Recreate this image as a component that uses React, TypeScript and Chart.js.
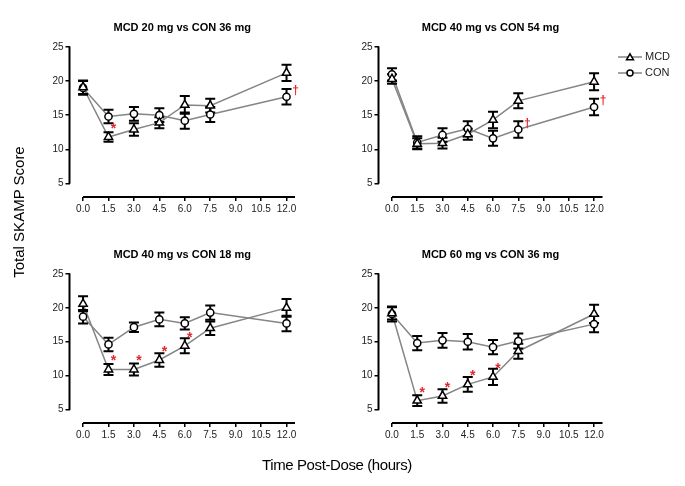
import React, { useEffect, useRef } from "react";
import { Chart, registerables } from "chart.js";

Chart.register(...registerables);

// ---------- data ----------
const hours = [0, 1.5, 3, 4.5, 6, 7.5, 12];
const xTickValues = [0, 1.5, 3, 4.5, 6, 7.5, 9, 10.5, 12];
const yTickValues = [5, 10, 15, 20, 25];
const seriesNames = ["MCD", "CON"];

const titles = [
  "MCD 20 mg vs CON 36 mg",
  "MCD 40 mg vs CON 54 mg",
  "MCD 40 mg vs CON 18 mg",
  "MCD 60 mg vs CON 36 mg",
];

const mcd20 = [19.1, 11.8, 12.9, 13.9, 16.5, 16.4, 21.2];
const mcd20Err = [1.0, 0.7, 0.9, 0.8, 1.3, 1.0, 1.2];
const con36a = [19.0, 14.8, 15.2, 15.0, 14.2, 15.1, 17.7];
const con36aErr = [1.0, 1.0, 1.0, 1.0, 1.2, 1.1, 1.15];

const mcd40a = [20.3, 10.8, 10.9, 12.2, 14.3, 17.1, 19.9];
const mcd40aErr = [0.7, 0.8, 0.8, 0.8, 1.2, 1.1, 1.25];
const con54 = [21.0, 11.0, 12.1, 13.0, 11.6, 12.9, 16.2];
const con54Err = [0.9, 0.9, 1.0, 1.1, 1.1, 1.2, 1.2];

const mcd40b = [20.6, 10.9, 10.9, 12.3, 14.4, 17.0, 20.0];
const mcd40bErr = [1.1, 0.8, 0.9, 1.0, 1.1, 1.0, 1.3];
const con18 = [18.7, 14.6, 17.15, 18.3, 17.7, 19.3, 17.7];
const con18Err = [1.0, 1.0, 0.7, 1.0, 0.9, 1.05, 1.15];

const mcd60 = [19.2, 6.3, 7.0, 8.7, 9.8, 13.6, 19.1];
const mcd60Err = [0.9, 0.8, 1.0, 1.1, 1.2, 1.1, 1.35];
const con36b = [19.1, 14.8, 15.2, 15.0, 14.2, 15.1, 17.6];
const con36bErr = [1.1, 1.05, 1.1, 1.15, 1.05, 1.1, 1.2];

// significance marks: series (0 = MCD, 1 = CON), point index, symbol
type Mark = { series: number; index: number; symbol: string };
const marks1: Mark[] = [
  { series: 0, index: 1, symbol: "*" },
  { series: 1, index: 6, symbol: "†" },
];
const marks2: Mark[] = [
  { series: 1, index: 5, symbol: "†" },
  { series: 1, index: 6, symbol: "†" },
];
const marks3: Mark[] = [
  { series: 0, index: 1, symbol: "*" },
  { series: 0, index: 2, symbol: "*" },
  { series: 0, index: 3, symbol: "*" },
  { series: 0, index: 4, symbol: "*" },
];
const marks4: Mark[] = [
  { series: 0, index: 1, symbol: "*" },
  { series: 0, index: 2, symbol: "*" },
  { series: 0, index: 3, symbol: "*" },
  { series: 0, index: 4, symbol: "*" },
];

// ---------- layout ----------
const FONT = '"Liberation Sans", Arial, Helvetica, sans-serif';
const YW = 40;
const XH = 24;

type Rect = { left: number; top: number; width: number; height: number };
type Area = { left: number; top: number; right: number; bottom: number };

const panels = [
  {
    title: titles[0], mcd: mcd20, mcdErr: mcd20Err, con: con36a, conErr: con36aErr, marks: marks1, legend: false,
    canvas: { left: 0, top: 0, width: 320, height: 240 } as Rect,
    area: { left: 69.5, top: 47, right: 295, bottom: 197 } as Area,
  },
  {
    title: titles[1], mcd: mcd40a, mcdErr: mcd40aErr, con: con54, conErr: con54Err, marks: marks2, legend: true,
    canvas: { left: 320, top: 0, width: 365, height: 240 } as Rect,
    area: { left: 378.5, top: 47, right: 602.5, bottom: 197 } as Area,
  },
  {
    title: titles[2], mcd: mcd40b, mcdErr: mcd40bErr, con: con18, conErr: con18Err, marks: marks3, legend: false,
    canvas: { left: 0, top: 240, width: 320, height: 246 } as Rect,
    area: { left: 69.5, top: 274, right: 295, bottom: 423 } as Area,
  },
  {
    title: titles[3], mcd: mcd60, mcdErr: mcd60Err, con: con36b, conErr: con36bErr, marks: marks4, legend: false,
    canvas: { left: 320, top: 240, width: 365, height: 246 } as Rect,
    area: { left: 378.5, top: 274, right: 602.5, bottom: 423 } as Area,
  },
];

const LINE_GRAY = "#858585";
const RED = "#e3262d";

function drawMarker(ctx: CanvasRenderingContext2D, style: string, x: number, y: number, r: number) {
  ctx.beginPath();
  if (style === "triangle") {
    for (let k = 0; k < 3; k++) {
      const a = -Math.PI / 2 + (k * 2 * Math.PI) / 3;
      const px = x + r * Math.cos(a);
      const py = y + r * Math.sin(a);
      if (k === 0) ctx.moveTo(px, py);
      else ctx.lineTo(px, py);
    }
    ctx.closePath();
  } else {
    ctx.arc(x, y, r, 0, Math.PI * 2);
  }
  ctx.fillStyle = "#fff";
  ctx.fill();
  ctx.strokeStyle = "#000";
  ctx.lineWidth = 1.5;
  ctx.stroke();
}

const decorPlugin = {
  id: "decor",
  afterDatasetDraw(chart: any, args: any, opts: any) {
    // line-only datasets are drawn first (index 3 then 2); error bars go on top of them, under markers
    if (args.index !== 2) return;
    const { ctx } = chart;
    const x = chart.scales.x;
    const y = chart.scales.y;
    ctx.save();
    ctx.strokeStyle = "#000";
    ctx.lineWidth = 2;
    [opts.values, opts.values2].forEach((vals: number[], si: number) => {
      const errs: number[] = si === 0 ? opts.errs : opts.errs2;
      vals.forEach((v, i) => {
        const px = x.getPixelForValue(hours[i]);
        const t = y.getPixelForValue(v + errs[i]);
        const b = y.getPixelForValue(v - errs[i]);
        ctx.beginPath();
        ctx.moveTo(px, t);
        ctx.lineTo(px, b);
        ctx.moveTo(px - 5, t);
        ctx.lineTo(px + 5, t);
        ctx.moveTo(px - 5, b);
        ctx.lineTo(px + 5, b);
        ctx.stroke();
      });
    });
    ctx.restore();
  },
  afterDraw(chart: any, _args: any, opts: any) {
    const { ctx, chartArea } = chart;
    const x = chart.scales.x;
    const y = chart.scales.y;
    ctx.save();
    // axis lines (Prism style, detached)
    ctx.strokeStyle = "#000";
    ctx.lineWidth = 2;
    ctx.beginPath();
    ctx.moveTo(chartArea.left, y.getPixelForValue(yTickValues[yTickValues.length - 1]) - 0.5);
    ctx.lineTo(chartArea.left, y.getPixelForValue(yTickValues[0]) + 0.5);
    ctx.moveTo(x.getPixelForValue(0), chartArea.bottom);
    ctx.lineTo(chartArea.right, chartArea.bottom);
    ctx.stroke();

    // title
    ctx.fillStyle = "#000";
    ctx.font = `bold 11px ${FONT}`;
    ctx.textAlign = "center";
    ctx.textBaseline = "middle";
    ctx.fillText(opts.title, (chartArea.left + chartArea.right) / 2, chartArea.top - 19);

    // significance marks
    (opts.marks as Mark[]).forEach((m) => {
      const vals = m.series === 0 ? opts.values : opts.values2;
      const px = x.getPixelForValue(hours[m.index]);
      const py = y.getPixelForValue(vals[m.index]);
      ctx.fillStyle = RED;
      ctx.textAlign = "center";
      ctx.textBaseline = "middle";
      if (m.symbol === "*") {
        ctx.font = `bold 14px ${FONT}`;
        ctx.fillText(m.symbol, px + 5, py - 8);
      } else {
        ctx.font = `bold 12px ${FONT}`;
        ctx.fillText(m.symbol, px + 9, py - 6);
      }
    });

    // legend
    if (opts.legend) {
      const lx = chartArea.right + 15.5;
      const rows = [chartArea.top + 10, chartArea.top + 26];
      seriesNames.forEach((name, i) => {
        const ly = rows[i];
        ctx.strokeStyle = LINE_GRAY;
        ctx.lineWidth = 1.5;
        ctx.beginPath();
        ctx.moveTo(lx, ly);
        ctx.lineTo(lx + 24, ly);
        ctx.stroke();
        drawMarker(ctx, i === 0 ? "triangle" : "circle", lx + 12, ly + (i === 0 ? 0.8 : 0), i === 0 ? 4 : 3);
        ctx.fillStyle = "#222";
        ctx.font = `11px ${FONT}`;
        ctx.textAlign = "left";
        ctx.textBaseline = "middle";
        ctx.fillText(name, lx + 27, ly);
      });
    }
    ctx.restore();
  },
};

function Panel({ p }: { p: (typeof panels)[number] }) {
  const ref = useRef<HTMLCanvasElement | null>(null);
  useEffect(() => {
    if (!ref.current) return;
    const toPts = (vals: number[]) => hours.map((h, i) => ({ x: h, y: vals[i] }));
    const lineDs = (vals: number[], label: string) => ({
      label,
      data: toPts(vals),
      borderColor: LINE_GRAY,
      borderWidth: 1.5,
      pointRadius: 0,
      tension: 0,
      fill: false,
      clip: false as any,
    });
    const pointDs = (vals: number[], label: string, style: string, r: number) => ({
      label,
      data: toPts(vals),
      showLine: false,
      pointStyle: style,
      pointRadius: r,
      pointBorderColor: "#000",
      pointBackgroundColor: "#fff",
      pointBorderWidth: 1.5,
      borderColor: "#000",
      backgroundColor: "#fff",
      clip: false as any,
    });
    const tickFont = { family: FONT, size: 10 };
    const gridCfg = {
      display: true,
      drawOnChartArea: false,
      drawTicks: true,
      tickLength: 4,
      color: "#000",
      lineWidth: 1.5,
    };
    const chart = new Chart(ref.current, {
      type: "line",
      data: {
        datasets: [
          pointDs(p.mcd, "MCD", "triangle", 4.8),
          pointDs(p.con, "CON", "circle", 3.6),
          lineDs(p.mcd, "MCD line"),
          lineDs(p.con, "CON line"),
        ] as any,
      },
      options: {
        responsive: false,
        animation: false,
        events: [],
        layout: {
          padding: {
            left: p.area.left - p.canvas.left - YW,
            top: p.area.top - p.canvas.top,
            right: p.canvas.left + p.canvas.width - p.area.right,
            bottom: p.canvas.top + p.canvas.height - p.area.bottom - XH,
          },
        },
        scales: {
          x: {
            type: "linear",
            min: -0.8,
            max: 12.5,
            afterBuildTicks: (s: any) => {
              s.ticks = xTickValues.map((v) => ({ value: v }));
            },
            afterFit: (s: any) => {
              s.height = XH;
            },
            ticks: {
              callback: (v: any) => Number(v).toFixed(1),
              font: tickFont,
              color: "#222",
              padding: 2,
              autoSkip: false,
              maxRotation: 0,
            },
            grid: gridCfg,
            border: { display: false },
          },
          y: {
            type: "linear",
            min: 3,
            max: 25,
            afterBuildTicks: (s: any) => {
              s.ticks = yTickValues.map((v) => ({ value: v }));
            },
            afterFit: (s: any) => {
              s.width = YW;
            },
            ticks: {
              callback: (v: any) => String(v),
              font: tickFont,
              color: "#222",
              padding: 2,
            },
            grid: gridCfg,
            border: { display: false },
          },
        },
        plugins: {
          legend: { display: false },
          tooltip: { enabled: false },
          title: { display: false },
          decor: {
            title: p.title,
            values: p.mcd,
            errs: p.mcdErr,
            values2: p.con,
            errs2: p.conErr,
            marks: p.marks,
            legend: p.legend,
          },
        } as any,
      },
      plugins: [decorPlugin],
    });
    return () => chart.destroy();
  }, [p]);
  return (
    <canvas
      ref={ref}
      width={p.canvas.width}
      height={p.canvas.height}
      style={{
        position: "absolute",
        left: p.canvas.left,
        top: p.canvas.top,
        width: p.canvas.width,
        height: p.canvas.height,
      }}
    />
  );
}

export default function App() {
  return (
    <div
      style={{
        position: "absolute",
        left: 0,
        top: 0,
        width: 685,
        height: 486,
        background: "#fff",
        overflow: "hidden",
        fontFamily: FONT,
      }}
    >
      {panels.map((p, i) => (
        <Panel key={i} p={p} />
      ))}
      <div
        style={{
          position: "absolute",
          left: 19 - 80,
          top: 212 - 9,
          width: 160,
          height: 18,
          lineHeight: "18px",
          textAlign: "center",
          transform: "rotate(-90deg)",
          transformOrigin: "80px 9px",
          whiteSpace: "nowrap",
          fontSize: 15,
          fontWeight: 400,
          color: "#000",
        }}
      >
        Total SKAMP Score
      </div>
      <div
        style={{
          position: "absolute",
          left: 337 - 100,
          top: 465 - 9,
          width: 200,
          height: 18,
          lineHeight: "18px",
          textAlign: "center",
          whiteSpace: "nowrap",
          fontSize: 15,
          color: "#000",
          letterSpacing: -0.4,
        }}
      >
        Time Post-Dose (hours)
      </div>
    </div>
  );
}
